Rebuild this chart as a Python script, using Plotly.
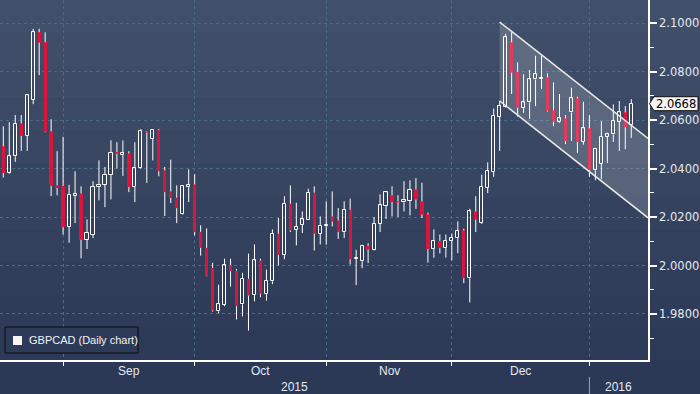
import plotly.graph_objects as go
import pandas as pd
import numpy as np

# ---------------- data ----------------
dates = pd.bdate_range("2015-08-18", "2016-01-12")  # daily (weekday) sessions

opens = [2.0492, 2.0382, 2.0451, 2.0586, 2.0535, 2.0683, 2.0963, 2.0921, 2.0554, 2.0331,
         2.0328, 2.0160, 2.0287, 2.0297, 2.0106, 2.0126, 2.0324, 2.0334, 2.0375, 2.0468,
         2.0457, 2.0462, 2.0324, 2.0403, 2.0553, 2.0523, 2.0559, 2.0393, 2.0306, 2.0280,
         2.0214, 2.0324, 2.0335, 2.0139, 2.0073, 1.9990, 1.9811, 1.9839, 2.0001, 1.9979,
         1.9840, 1.9945, 1.9879, 2.0021, 1.9883, 1.9935, 2.0131, 2.0044, 2.0255, 2.0148,
         2.0167, 2.0189, 2.0301, 2.0131, 2.0164, 2.0203, 2.0186, 2.0138, 2.0230, 2.0028,
         2.0018, 2.0081, 2.0066, 2.0172, 2.0245, 2.0290, 2.0265, 2.0261, 2.0266, 2.0313,
         2.0265, 2.0211, 2.0068, 2.0102, 2.0072, 2.0103, 2.0113, 2.0145, 1.9948, 2.0223,
         2.0177, 2.0321, 2.0386, 2.0614, 2.0655, 2.0921, 2.0800, 2.0651, 2.0673, 2.0768,
         2.0771, 2.0776, 2.0641, 2.0593, 2.0607, 2.0632, 2.0690, 2.0510, 2.0566, 2.0393,
         2.0421, 2.0531, 2.0541, 2.0593, 2.0632, 2.0579]
highs = [2.0575, 2.0592, 2.0621, 2.0621, 2.0705, 2.0977, 2.0977, 2.0963, 2.0604, 2.0472,
         2.0531, 2.0333, 2.0389, 2.0327, 2.0190, 2.0348, 2.0434, 2.0407, 2.0517, 2.0509,
         2.0517, 2.0472, 2.0509, 2.0563, 2.0555, 2.0563, 2.0563, 2.0407, 2.0437, 2.0331,
         2.0331, 2.0397, 2.0377, 2.0166, 2.0153, 2.0011, 1.9921, 2.0028, 2.0028, 1.9986,
         1.9970, 2.0049, 2.0087, 2.0028, 1.9983, 2.0149, 2.0196, 2.0286, 2.0331, 2.0259,
         2.0223, 2.0317, 2.0327, 2.0203, 2.0265, 2.0306, 2.0237, 2.0265, 2.0276, 2.0065,
         2.0086, 2.0092, 2.0200, 2.0294, 2.0306, 2.0327, 2.0290, 2.0348, 2.0352, 2.0361,
         2.0342, 2.0218, 2.0149, 2.0128, 2.0128, 2.0132, 2.0182, 2.0152, 2.0234, 2.0286,
         2.0375, 2.0426, 2.0648, 2.0680, 2.0956, 2.0963, 2.0839, 2.0790, 2.0807, 2.0866,
         2.0866, 2.0793, 2.0756, 2.0708, 2.0621, 2.0734, 2.0697, 2.0676, 2.0621, 2.0486,
         2.0596, 2.0549, 2.0665, 2.0679, 2.0658, 2.0687]
lows = [2.0363, 2.0379, 2.0428, 2.0473, 2.0473, 2.0666, 2.0786, 2.0550, 2.0287, 2.0290,
        2.0128, 2.0094, 2.0175, 2.0030, 2.0068, 2.0113, 2.0269, 2.0241, 2.0273, 2.0400,
        2.0370, 2.0303, 2.0262, 2.0400, 2.0341, 2.0434, 2.0368, 2.0204, 2.0258, 2.0175,
        2.0210, 2.0262, 2.0124, 2.0041, 1.9955, 1.9810, 1.9803, 1.9832, 1.9913, 1.9777,
        1.9790, 1.9731, 1.9852, 1.9869, 1.9855, 1.9923, 2.0000, 2.0026, 2.0138, 2.0083,
        2.0134, 2.0189, 2.0062, 2.0087, 2.0086, 2.0161, 2.0110, 2.0113, 2.0004, 1.9919,
        1.9989, 2.0010, 2.0062, 2.0138, 2.0192, 2.0203, 2.0200, 2.0223, 2.0207, 2.0234,
        2.0196, 2.0012, 2.0032, 2.0050, 2.0033, 2.0021, 2.0051, 1.9927, 1.9848, 2.0138,
        2.0172, 2.0299, 2.0366, 2.0473, 2.0652, 2.0708, 2.0614, 2.0630, 2.0604, 2.0658,
        2.0728, 2.0636, 2.0575, 2.0589, 2.0501, 2.0514, 2.0465, 2.0499, 2.0366, 2.0352,
        2.0356, 2.0423, 2.0510, 2.0473, 2.0480, 2.0527]
closes = [2.0382, 2.0451, 2.0586, 2.0535, 2.0702, 2.0963, 2.0920, 2.0552, 2.0328, 2.0320,
          2.0159, 2.0291, 2.0297, 2.0106, 2.0135, 2.0326, 2.0334, 2.0375, 2.0466, 2.0461,
          2.0463, 2.0324, 2.0404, 2.0554, 2.0548, 2.0559, 2.0389, 2.0303, 2.0279, 2.0237,
          2.0327, 2.0334, 2.0138, 2.0073, 1.9956, 1.9814, 1.9841, 2.0001, 1.9977, 1.9832,
          1.9945, 1.9876, 2.0021, 1.9883, 1.9938, 2.0131, 2.0044, 2.0255, 2.0145, 2.0159,
          2.0190, 2.0301, 2.0131, 2.0164, 2.0166, 2.0182, 2.0138, 2.0230, 2.0026, 2.0033,
          2.0081, 2.0066, 2.0172, 2.0248, 2.0302, 2.0262, 2.0261, 2.0269, 2.0313, 2.0272,
          2.0210, 2.0068, 2.0102, 2.0072, 2.0102, 2.0114, 2.0143, 1.9948, 2.0223, 2.0189,
          2.0324, 2.0389, 2.0617, 2.0658, 2.0942, 2.0796, 2.0651, 2.0673, 2.0768, 2.0790,
          2.0776, 2.0639, 2.0593, 2.0607, 2.0514, 2.0690, 2.0510, 2.0566, 2.0393, 2.0483,
          2.0531, 2.0541, 2.0596, 2.0632, 2.0572, 2.0668]

y_ticks = [1.98, 2.00, 2.02, 2.04, 2.06, 2.08, 2.10]
month_labels = ["Sep", "Oct", "Nov", "Dec"]
year_labels = ["2015", "2016"]
legend_label = "GBPCAD (Daily chart)"

# hand-drawn descending channel (x in session index, y in price)
channel_x = [83, 107.8]
channel_upper = [2.1005, 2.0525]
channel_lower = [2.0679, 2.0197]

# ---------------- styling ----------------
X_RANGE = [-0.55, 107.8]
Y_RANGE = [1.961, 2.1096]
RED = "#dc143c"
GRID = "#4c6986"
TXT = "#e4eaf2"
PLOT_W, PLOT_H, MR, MB = 648, 360, 52, 34
W, H = 700, 394

idx = np.arange(len(dates))
o = np.array(opens); h = np.array(highs); l = np.array(lows); c = np.array(closes)
bull = c >= o
body_lo = np.minimum(o, c)
body_hi = np.maximum(o, c)

month_starts = [i for i in range(1, len(dates)) if dates[i].month != dates[i - 1].month]
year_start = [i for i in range(1, len(dates)) if dates[i].year != dates[i - 1].year][0]

fig = go.Figure()

# wicks (two segments, so hollow bodies stay hollow)
wx, wy = [], []
for i in idx:
    wx += [i, i, None, i, i, None]
    wy += [l[i], body_lo[i], None, body_hi[i], h[i], None]
fig.add_trace(go.Scatter(x=wx, y=wy, mode="lines", line=dict(color="white", width=1),
                         hoverinfo="skip"))

# bodies
fig.add_trace(go.Bar(x=idx[bull], y=(body_hi - body_lo)[bull], base=body_lo[bull], width=0.52,
                     marker=dict(color="rgba(0,0,0,0)", line=dict(color="white", width=1))))
fig.add_trace(go.Bar(x=idx[~bull], y=(body_hi - body_lo)[~bull], base=body_lo[~bull], width=0.55,
                     marker=dict(color=RED, line=dict(width=0))))

# channel
fig.add_trace(go.Scatter(x=[channel_x[0], channel_x[1], channel_x[1], channel_x[0], channel_x[0]],
                         y=[channel_upper[0], channel_upper[1], channel_lower[1], channel_lower[0], channel_upper[0]],
                         fill="toself", fillcolor="rgba(255,255,255,0.17)", mode="lines",
                         line=dict(width=0, color="rgba(0,0,0,0)"), hoverinfo="skip"))
fig.add_trace(go.Scatter(x=channel_x, y=channel_upper, mode="lines",
                         line=dict(color="#e8e8e8", width=1.5), hoverinfo="skip"))
fig.add_trace(go.Scatter(x=channel_x, y=channel_lower, mode="lines",
                         line=dict(color="#e8e8e8", width=1.5), hoverinfo="skip"))

shapes = []
# background stepped gradient
top = np.array([65, 80, 106]); bot = np.array([43, 56, 86])
nb = 12
y_top_p, y_bot_p = 1.0, -MB / PLOT_H
for k in range(nb):
    t = k / (nb - 1)
    col = top + (bot - top) * t
    y1 = y_top_p - (y_top_p - y_bot_p) * k / nb
    y0 = y_top_p - (y_top_p - y_bot_p) * (k + 1) / nb
    shapes.append(dict(type="rect", xref="paper", yref="paper", x0=0, x1=W / PLOT_W,
                       y0=y0 - 0.001, y1=y1, layer="below", line=dict(width=0),
                       fillcolor="rgb(%d,%d,%d)" % tuple(col.astype(int))))

# year separator
shapes.append(dict(type="line", xref="x", yref="paper", x0=year_start, x1=year_start,
                   y0=-17 / PLOT_H, y1=-MB / PLOT_H, line=dict(color="#9aa5b8", width=1)))

# legend box
shapes.append(dict(type="rect", xref="paper", yref="paper", x0=5 / PLOT_W, x1=138 / PLOT_W,
                   y0=(PLOT_H - 353) / PLOT_H, y1=(PLOT_H - 327) / PLOT_H,
                   line=dict(color="#0b0b0b", width=1), fillcolor="rgba(46,59,88,1)"))
shapes.append(dict(type="rect", xref="paper", yref="paper", x0=13 / PLOT_W, x1=22 / PLOT_W,
                   y0=(PLOT_H - 345) / PLOT_H, y1=(PLOT_H - 336) / PLOT_H,
                   line=dict(width=0), fillcolor="#fbf4f4"))

# last-price tag with pointer
last = closes[-1]
py = (last - Y_RANGE[0]) / (Y_RANGE[1] - Y_RANGE[0])
hh = 7 / PLOT_H
xt, xl, xr = 649.5 / PLOT_W, 654 / PLOT_W, 698 / PLOT_W
shapes.append(dict(type="path", xref="paper", yref="paper",
                   path=f"M {xt},{py} L {xl},{py + hh} L {xr},{py + hh} L {xr},{py - hh} L {xl},{py - hh} Z",
                   fillcolor="#f4f4f4", line=dict(color="#111111", width=1)))

annotations = []
for k, lab in enumerate(month_labels):
    xm = (month_starts[k] + month_starts[k + 1]) / 2
    annotations.append(dict(x=xm, xref="x", y=-11 / PLOT_H, yref="paper", text=lab,
                            showarrow=False, yanchor="middle",
                            font=dict(family="Liberation Sans, Arial", size=12, color=TXT)))
year_centers = [(X_RANGE[0] + year_start) / 2, (year_start + X_RANGE[1]) / 2]
for xc, lab in zip(year_centers, year_labels):
    annotations.append(dict(x=xc, xref="x", y=-26.5 / PLOT_H, yref="paper", text=lab,
                            showarrow=False, yanchor="middle",
                            font=dict(family="Liberation Sans, Arial", size=12, color=TXT)))
annotations.append(dict(x=27 / PLOT_W, xref="paper", y=(PLOT_H - 340) / PLOT_H, yref="paper",
                        text=legend_label, showarrow=False, xanchor="left", yanchor="middle",
                        font=dict(family="Liberation Sans, Arial", size=11, color="#f2f2f2")))
annotations.append(dict(x=676 / PLOT_W, xref="paper", y=last, yref="y", text=f"{last:.4f}",
                        showarrow=False, xanchor="center", yanchor="middle",
                        font=dict(family="DejaVu Sans", size=11.5, color="#000000")))

fig.update_layout(
    width=W, height=H,
    margin=dict(l=0, r=MR, t=0, b=MB, autoexpand=False),
    paper_bgcolor="#2c3957", plot_bgcolor="rgba(0,0,0,0)",
    showlegend=False, barmode="overlay", bargap=0,
    shapes=shapes, annotations=annotations,
    xaxis=dict(range=X_RANGE, tickmode="array", tickvals=month_starts, ticktext=[""] * len(month_starts),
               ticks="outside", ticklen=4, tickcolor="white", tickwidth=1, automargin=False,
               showgrid=True, gridcolor=GRID, griddash="3px,3px", gridwidth=1,
               showline=True, linecolor="white", linewidth=1.5, zeroline=False, fixedrange=True),
    yaxis=dict(side="right", range=Y_RANGE, tickmode="array", tickvals=y_ticks,
               ticktext=[f"{v:.4f}" for v in y_ticks], automargin=False,
               ticks="outside", ticklen=7, tickwidth=2, tickcolor="white", ticklabelstandoff=0,
               showgrid=True, gridcolor=GRID, griddash="3px,3px", gridwidth=1,
               showline=True, linecolor="white", linewidth=1.5, zeroline=False,
               tickfont=dict(family="DejaVu Sans", size=11.5, color=TXT),
               minor=dict(tickmode="array", tickvals=[round(v - 0.01, 2) for v in y_ticks],
                          ticks="outside", ticklen=4, tickcolor="white", tickwidth=1, showgrid=False),
               fixedrange=True),
)

fig.write_html("out.html", config={"displayModeBar": False},
               post_script="document.body.style.margin='0';document.body.style.overflow='hidden';")
